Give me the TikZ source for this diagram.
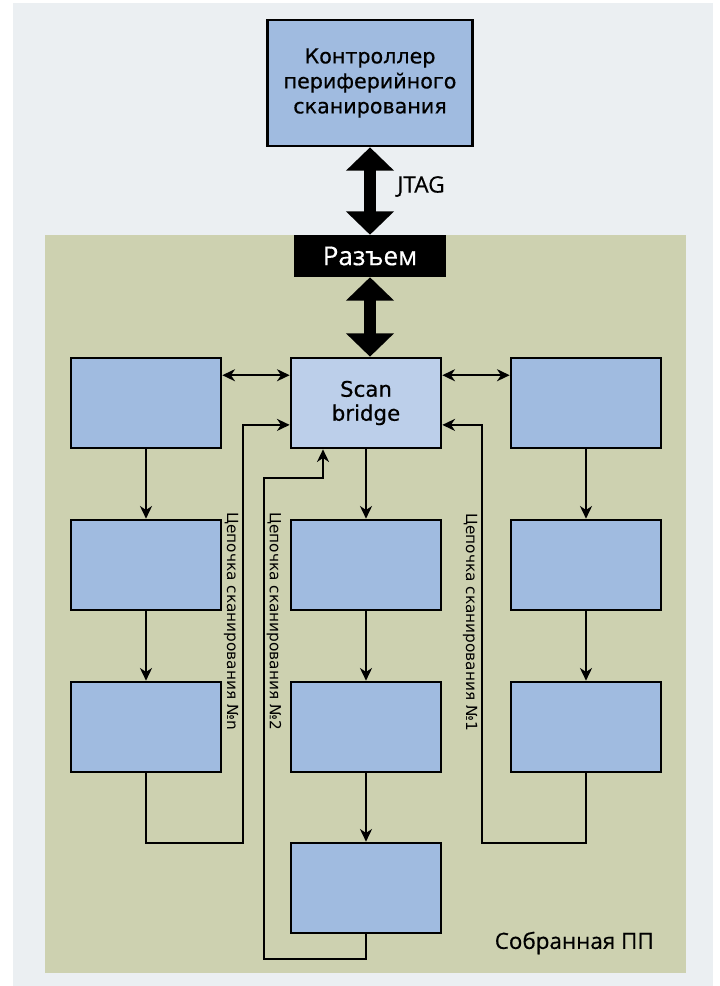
\documentclass[tikz,border=0pt]{standalone}
\usepackage{fontspec}
\setmainfont{DejaVu Sans}
\newfontfamily\demifont{DejaVu Sans}[FakeBold=0.5]
\newfontfamily\titrefont{Open Sans}[FakeBold=0.5]
\usetikzlibrary{arrows.meta}
\definecolor{fond}{RGB}{235,239,242}
\definecolor{carte}{RGB}{205,209,176}
\definecolor{bloc}{RGB}{160,187,224}
\definecolor{pont}{RGB}{188,207,234}

\begin{document}
\begin{tikzpicture}[x=0.75pt,y=-0.75pt,
  bloc/.style={draw,line width=2pt,fill=bloc,minimum width=112.5pt,minimum height=67.5pt,inner sep=0pt,align=center},
  fil/.style={line width=1.6pt},
  fleche/.style={fil,-{Stealth[length=9.5pt,width=9pt,inset=3pt]}},
  gros/.style={line width=9pt,{Triangle[width=35pt,length=17.5pt]}-{Triangle[width=35pt,length=17.5pt]}},
  chaine/.style={rotate=-90,anchor=west,inner sep=0pt,font=\fontsize{11.5}{13}\selectfont}]
\useasboundingbox (0,0) rectangle (720,986);
\fill [white] (0,0) rectangle (720,986);
\fill [fond] (13,3) rectangle (713,986);
\fill [carte] (45,235) rectangle (686,973);

\node [bloc,minimum width=153.75pt,minimum height=94.5pt,font=\demifont\fontsize{15.5}{18.75}\selectfont] (ctrl) at (370,83) {Контроллер\\периферийного\\сканирования};
\node [fill=black,text=white,minimum width=114pt,minimum height=31.5pt,inner sep=0pt,font=\titrefont\fontsize{19.5}{20}\selectfont] (razem) at (370,256) {Разъем};
\node [anchor=west,inner sep=0pt,font=\titrefont\fontsize{17}{18}\selectfont] (jtag) at (397,186.5) {JTAG};

\node [bloc,fill=pont,font=\demifont\fontsize{16}{18}\selectfont] (pont) at (366,403) {Scan\\bridge};
\node [bloc] (c11) at (146,403) {};
\node [bloc] (c12) at (146,565) {};
\node [bloc] (c13) at (146,727) {};
\node [bloc] (c22) at (366,565) {};
\node [bloc] (c23) at (366,727) {};
\node [bloc] (c24) at (366,888) {};
\node [bloc] (c31) at (586,403) {};
\node [bloc] (c32) at (586,565) {};
\node [bloc] (c33) at (586,727) {};

\draw [gros] (ctrl.south) -- (razem.north);
\draw [gros] (razem.south) -- (razem.south |- pont.north);

\draw [fil,{Stealth[length=9.5pt,width=9pt,inset=3pt]}-{Stealth[length=9.5pt,width=9pt,inset=3pt]}] (c11.20) -- (pont.160);
\draw [fil,{Stealth[length=9.5pt,width=9pt,inset=3pt]}-{Stealth[length=9.5pt,width=9pt,inset=3pt]}] (pont.20) -- (c31.160);

\draw [fleche] (c11) -- (c12);
\draw [fleche] (c12) -- (c13);
\draw [fleche] (pont) -- (c22);
\draw [fleche] (c22) -- (c23);
\draw [fleche] (c23) -- (c24);
\draw [fleche] (c31) -- (c32);
\draw [fleche] (c32) -- (c33);

\coordinate (bouclen) at (243,843);
\coordinate (boucle1) at (482,843);
\coordinate (boucle2a) at (264,959);
\coordinate (boucle2b) at (323,478);
\draw [fleche] (c13.south) |- (bouclen) |- (pont.196);
\draw [fleche] (c33.south) |- (boucle1) |- (pont.-16);
\draw [fleche] (c24.south) |- (boucle2a) |- (boucle2b) -- (boucle2b |- pont.south);

\node [chaine] (chn) at (231,512) {Цепочка сканирования №n};
\node [chaine] (ch2) at (274,512) {Цепочка сканирования №2};
\node [chaine] (ch1) at (470,513) {Цепочка сканирования №1};

\node [anchor=east,inner sep=0pt,font=\titrefont\fontsize{16.8}{18}\selectfont] (carte) at (654,943) {Собранная ПП};
\end{tikzpicture}
\end{document}
